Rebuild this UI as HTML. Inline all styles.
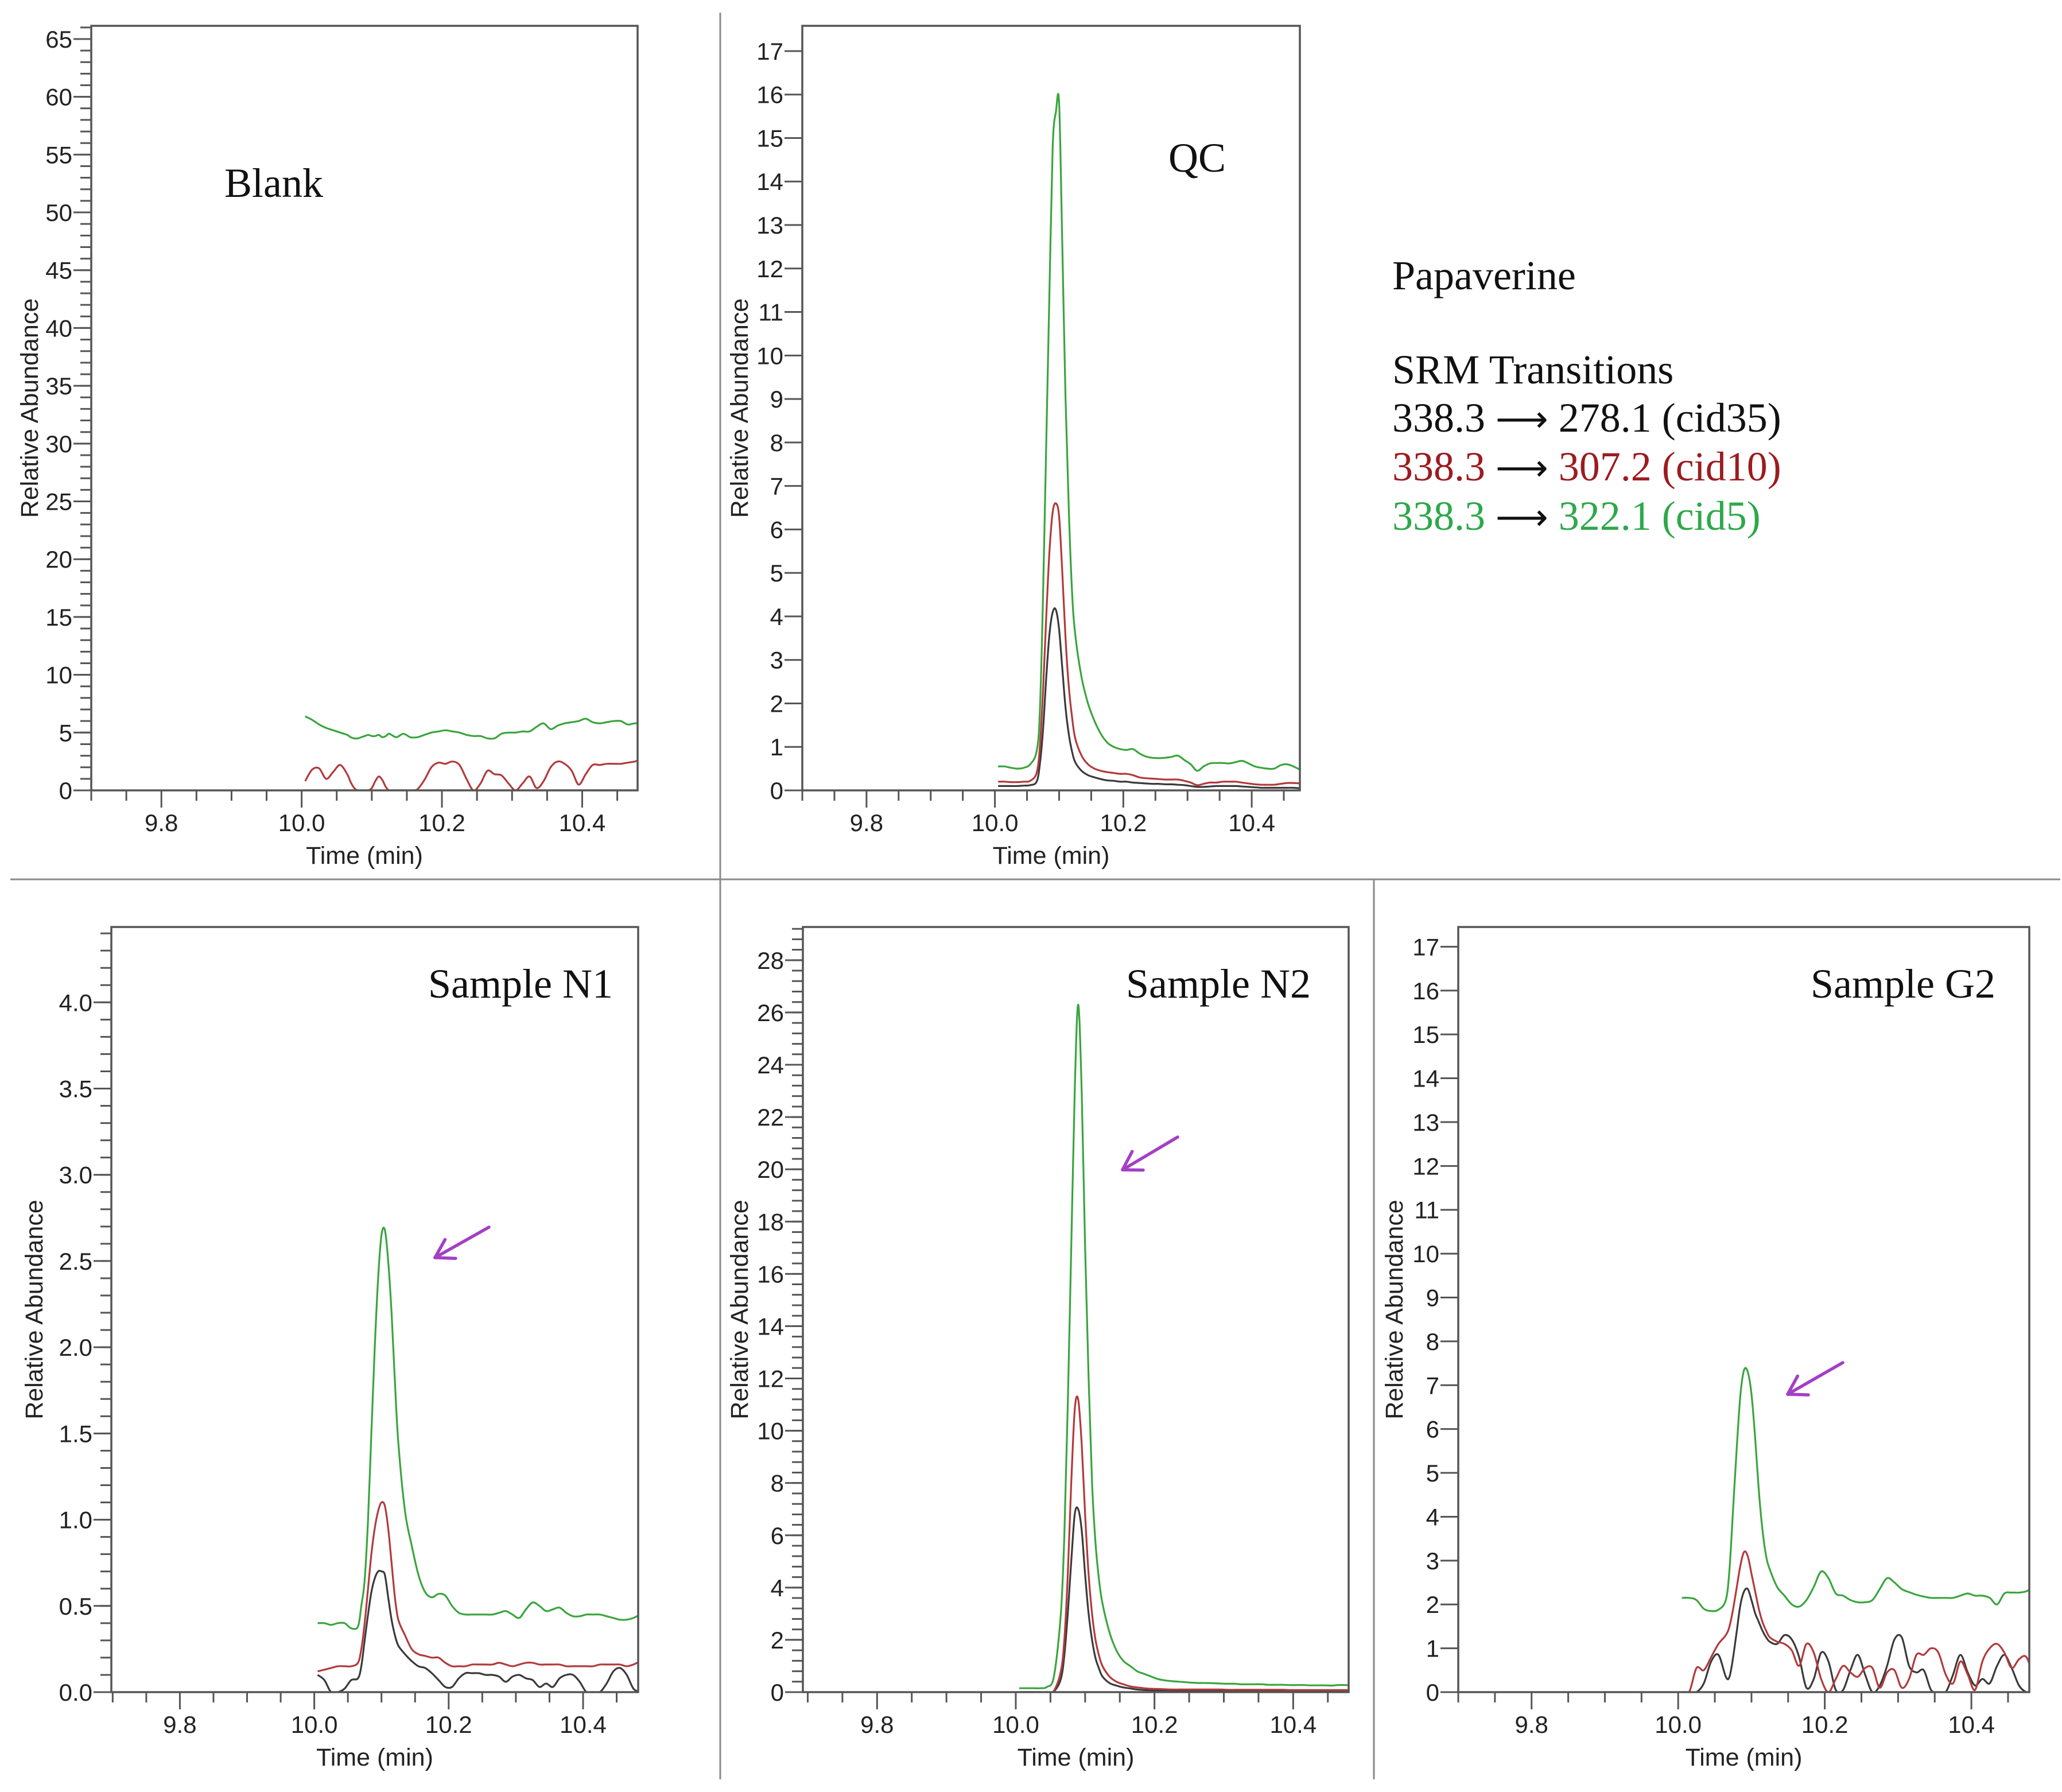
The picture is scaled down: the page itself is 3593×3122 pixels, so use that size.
<!DOCTYPE html>
<html><head><meta charset="utf-8"><style>
html,body{margin:0;padding:0;background:#fff}
svg{display:block}
text{font-family:"Liberation Sans",Arial,sans-serif}
.serif{font-family:"Liberation Serif","Times New Roman",serif}
.arr{font-family:"DejaVu Sans",sans-serif;font-size:64px}
</style></head><body>
<svg id="fig" width="3593" height="3122" viewBox="0 0 3593 3122" xmlns="http://www.w3.org/2000/svg">
<line x1="18" y1="1532" x2="3590" y2="1532" stroke="#8a8a8a" stroke-width="3"/>
<line x1="1255" y1="22" x2="1255" y2="3100" stroke="#8a8a8a" stroke-width="3"/>
<line x1="2394" y1="1532" x2="2394" y2="3100" stroke="#8a8a8a" stroke-width="3"/>
<g class="serif" font-size="72">
<text x="2426" y="504" fill="#111" class="serif">Papaverine</text>
<text x="2426" y="668" fill="#111" class="serif">SRM Transitions</text>
<text x="2426" y="752" fill="#111" class="serif">338.3 <tspan class="arr" fill="#111">⟶</tspan> 278.1 (cid35)</text>
<text x="2426" y="837" fill="#9b1c1f" class="serif">338.3 <tspan class="arr" fill="#111">⟶</tspan> 307.2 (cid10)</text>
<text x="2426" y="923" fill="#2ea84a" class="serif">338.3 <tspan class="arr" fill="#111">⟶</tspan> 322.1 (cid5)</text>
</g>
</svg>
<script>
const T = [10.00,10.01,10.02,10.03,10.04,10.05,10.06,10.065,10.07,10.075,10.08,10.085,10.09,10.095,10.10,10.105,10.11,10.115,10.12,10.13,10.14,10.15,10.16,10.17,10.18,10.19,10.20,10.21,10.22,10.23,10.24,10.25,10.26,10.27,10.28,10.29,10.30,10.31,10.32,10.33,10.34,10.35,10.36,10.37,10.38,10.39,10.40,10.41,10.42,10.43,10.44,10.45,10.46,10.47,10.48];
const xTickLabels = ["9.8","10.0","10.2","10.4"];

const blankGreen = [6.4,6.1,5.7,5.4,5.2,5.0,4.8,4.6,4.5,4.5,4.6,4.7,4.8,4.7,4.7,4.8,4.6,4.7,4.9,4.6,4.9,4.6,4.6,4.8,5.0,5.1,5.2,5.1,5.0,4.8,4.7,4.7,4.5,4.5,4.9,5.0,5.0,5.1,5.1,5.5,5.8,5.3,5.6,5.8,5.9,6.0,6.2,5.9,5.8,5.9,6.0,6.0,5.7,5.8,5.8];
const blankRed = [0.8,1.8,1.9,1.0,1.6,2.2,1.4,0.7,0.2,0,0,0,0,0.2,0.8,1.2,0.9,0.3,0,0,0,0,0.1,0.9,2.0,2.4,2.3,2.5,2.2,1.0,0,0.6,1.7,1.4,1.3,0.6,0,0.6,1.2,0.2,0.8,2.0,2.5,2.3,1.7,0.5,1.4,2.2,2.2,2.3,2.3,2.3,2.4,2.5,2.7];
const blankBlack = [0,0,0,0,0,0,0,0,0,0,0,0,0,0,0,0,0,0,0,0,0,0,0,0,0,0,0,0,0,0,0,0,0,0,0,0,0,0,0,0,0,0,0,0,0,0,0,0,0,0,0,0,0,0,0];

const qcGreen = [0.55,0.55,0.52,0.5,0.52,0.6,0.9,1.8,4.5,8,11.5,14.8,15.6,15.8,12.5,9,6.5,4.6,3.6,2.6,2.0,1.6,1.3,1.1,1.0,0.95,0.93,0.95,0.85,0.78,0.75,0.74,0.75,0.77,0.8,0.7,0.6,0.45,0.55,0.62,0.63,0.63,0.62,0.65,0.68,0.62,0.55,0.52,0.5,0.5,0.58,0.6,0.55,0.48,0.42];
const qcRed = [0.2,0.2,0.19,0.19,0.2,0.22,0.4,1.0,2.3,4.0,5.5,6.4,6.6,6.3,5.0,3.5,2.4,1.7,1.2,0.8,0.6,0.5,0.45,0.42,0.4,0.38,0.38,0.35,0.3,0.28,0.27,0.26,0.25,0.25,0.25,0.22,0.18,0.12,0.15,0.18,0.18,0.2,0.2,0.2,0.18,0.16,0.14,0.13,0.13,0.13,0.15,0.17,0.17,0.16,0.15];
const qcBlack = [0.1,0.1,0.1,0.1,0.11,0.12,0.2,0.6,1.4,2.6,3.6,4.1,4.15,3.7,2.8,1.9,1.3,0.9,0.65,0.45,0.35,0.3,0.26,0.23,0.22,0.2,0.2,0.18,0.17,0.16,0.15,0.15,0.14,0.14,0.13,0.12,0.1,0.08,0.08,0.09,0.1,0.1,0.1,0.1,0.09,0.08,0.07,0.06,0.06,0.06,0.06,0.06,0.06,0.05,0.05];

const n1Green = [0.4,0.4,0.39,0.4,0.4,0.37,0.38,0.5,0.65,1.0,1.5,2.0,2.4,2.65,2.68,2.5,2.2,1.8,1.45,1.05,0.85,0.68,0.58,0.55,0.57,0.56,0.5,0.46,0.45,0.45,0.45,0.45,0.45,0.46,0.47,0.45,0.43,0.48,0.52,0.5,0.47,0.48,0.49,0.46,0.44,0.44,0.45,0.45,0.45,0.44,0.43,0.42,0.42,0.43,0.45];
const n1Red = [0.12,0.13,0.14,0.15,0.15,0.15,0.17,0.25,0.4,0.6,0.8,0.95,1.05,1.1,1.08,0.95,0.75,0.55,0.42,0.33,0.25,0.22,0.21,0.2,0.2,0.17,0.15,0.15,0.15,0.16,0.16,0.16,0.16,0.17,0.16,0.15,0.16,0.17,0.17,0.16,0.16,0.16,0.16,0.15,0.15,0.15,0.15,0.15,0.16,0.16,0.16,0.16,0.15,0.16,0.18];
const n1Black = [0.1,0.07,0,0,0.02,0.07,0.08,0.15,0.3,0.45,0.58,0.66,0.7,0.7,0.68,0.55,0.42,0.33,0.27,0.22,0.18,0.15,0.14,0.11,0.07,0.03,0.03,0.08,0.11,0.11,0.11,0.1,0.1,0.09,0.06,0.09,0.1,0.08,0.07,0.03,0.05,0.03,0.08,0.1,0.1,0.06,0,0,0,0.05,0.12,0.14,0.1,0.02,0];

const n2Green = [0.15,0.15,0.15,0.15,0.2,0.6,3,6,11,17,23,26.3,23,17,12,8,5.7,4.3,3.4,2.3,1.6,1.2,1.0,0.8,0.7,0.6,0.5,0.45,0.42,0.4,0.38,0.36,0.35,0.35,0.34,0.33,0.32,0.32,0.3,0.3,0.3,0.3,0.28,0.28,0.28,0.27,0.27,0.27,0.26,0.26,0.26,0.25,0.27,0.27,0.25];
const n2Red = [0,0,0,0,0,0.05,0.8,2,4.5,8,10.8,11.2,9.5,6.8,4.5,3,2,1.4,1.0,0.6,0.4,0.3,0.22,0.18,0.15,0.13,0.12,0.11,0.1,0.1,0.1,0.1,0.1,0.1,0.1,0.1,0.09,0.09,0.09,0.09,0.09,0.09,0.09,0.09,0.09,0.08,0.08,0.08,0.08,0.08,0.08,0.08,0.08,0.08,0.08];
const n2Black = [0,0,0,0,0,0.03,0.5,1.4,3,5,6.8,7.0,6.2,4.5,3,2,1.3,0.9,0.6,0.35,0.25,0.18,0.14,0.1,0.08,0.07,0.06,0.06,0.06,0.06,0.05,0.05,0.05,0.05,0.05,0.05,0.05,0.05,0.05,0.05,0.05,0.05,0.05,0.05,0.05,0.05,0.05,0.05,0.05,0.05,0.05,0.05,0.05,0.05,0.05];

const g2Green = [2.15,2.15,2.1,1.9,1.85,1.88,2.1,2.8,4.2,5.6,6.8,7.35,7.3,6.8,5.8,4.6,3.7,3.1,2.8,2.4,2.2,2.0,1.95,2.1,2.4,2.75,2.6,2.25,2.2,2.1,2.05,2.05,2.1,2.35,2.6,2.5,2.35,2.28,2.22,2.18,2.15,2.15,2.15,2.15,2.2,2.25,2.2,2.2,2.15,2.0,2.25,2.27,2.27,2.3,2.4];
const g2Red = [0,0,0.55,0.5,0.8,1.1,1.3,1.5,1.9,2.4,2.9,3.2,3.1,2.7,2.3,1.9,1.6,1.4,1.25,1.15,1.1,0.95,0.6,1.1,0.9,0.3,0,0.3,0.6,0.45,0.35,0.55,0.55,0.1,0.45,0.5,0.1,0.3,0.85,0.85,1.0,0.9,0.4,0.2,0.7,0.4,0.05,0.7,1.0,1.1,0.9,0.55,0.75,0.8,0.35];
const g2Black = [0,0,0,0.2,0.7,0.85,0.35,0.35,0.8,1.4,2.0,2.3,2.35,2.1,1.8,1.6,1.4,1.25,1.15,1.1,1.3,1.2,0.8,0.1,0.3,0.9,0.7,0.05,0.05,0.5,0.85,0.4,0,0.15,0.6,1.2,1.25,0.6,0.45,0.5,0.05,0,0,0.4,0.85,0.45,0.15,0.3,0.2,0.6,0.85,0.55,0.15,0,0];

const NS = "http://www.w3.org/2000/svg";
const svg = document.getElementById("fig");
const COL = {green:"#3aa53e", red:"#b23a3c", black:"#3a3a3a"};

function mk(tag, attrs, parent){
  const e = document.createElementNS(NS, tag);
  for (const k in attrs) e.setAttribute(k, attrs[k]);
  (parent||svg).appendChild(e);
  return e;
}
function smoothPath(pts){
  let d = "M" + pts[0][0].toFixed(1) + "," + pts[0][1].toFixed(1);
  for (let i=0;i<pts.length-1;i++){
    const p0 = pts[Math.max(0,i-1)], p1 = pts[i], p2 = pts[i+1], p3 = pts[Math.min(pts.length-1,i+2)];
    const c1x = p1[0] + (p2[0]-p0[0])/6, c1y = p1[1] + (p2[1]-p0[1])/6;
    const c2x = p2[0] - (p3[0]-p1[0])/6, c2y = p2[1] - (p3[1]-p1[1])/6;
    d += " C" + c1x.toFixed(1)+","+c1y.toFixed(1)+" "+c2x.toFixed(1)+","+c2y.toFixed(1)+" "+p2[0].toFixed(1)+","+p2[1].toFixed(1);
  }
  return d;
}

const panels = [
 {id:"blank", title:"Blank", tx:391, ty:343, L:159, R:1111, Tp:45, B:1377, x0:9.70, x1:10.479, ymax:66.14, major:5, minor:1, dec:0, labX:52,
  series:[["black",blankBlack],["red",blankRed],["green",blankGreen]]},
 {id:"qc", title:"QC", tx:2036, ty:299, L:1398, R:2265, Tp:45, B:1377, x0:9.70, x1:10.475, ymax:17.58, major:1, minor:0, dec:0, labX:1289,
  series:[["black",qcBlack],["red",qcRed],["green",qcGreen]]},
 {id:"sample-n1", title:"Sample N1", tx:746, ty:1738, L:194, R:1112, Tp:1615, B:2948, x0:9.698, x1:10.482, ymax:4.437, major:0.5, minor:0.1, dec:1, labX:60,
  series:[["black",n1Black],["red",n1Red],["green",n1Green]], arrow:[852,2138,758,2191]},
 {id:"sample-n2", title:"Sample N2", tx:1962, ty:1738, L:1399, R:2350, Tp:1615, B:2948, x0:9.693, x1:10.48, ymax:29.27, major:2, minor:0.4, dec:0, labX:1289,
  series:[["black",n2Black],["red",n2Red],["green",n2Green]], arrow:[2052,1981,1956,2038]},
 {id:"sample-g2", title:"Sample G2", tx:3155, ty:1738, L:2541, R:3536, Tp:1615, B:2948, x0:9.70, x1:10.479, ymax:17.45, major:1, minor:0, dec:0, labX:2430,
  series:[["black",g2Black],["red",g2Red],["green",g2Green]], arrow:[3211,2374,3115,2429]}
];

panels.forEach(p=>{
  const g = mk("g",{});
  
  
  const xs = t => p.L + (t-p.x0)/(p.x1-p.x0)*(p.R-p.L);
  const ys = v => p.B - v/p.ymax*(p.B-p.Tp);

  const cp = mk("clipPath",{id:"clip-"+p.id}, g);
  mk("rect",{x:p.L,y:p.Tp,width:p.R-p.L,height:p.B-p.Tp}, cp);

  p.series.forEach(([c,vals])=>{
    const pts = T.map((t,i)=>[xs(t+0.005), ys(Math.max(0,vals[i]))]);
    const path = mk("path",{d:smoothPath(pts), fill:"none", stroke:COL[c], "stroke-width":3.2, "clip-path":"url(#clip-"+p.id+")", "stroke-linejoin":"round"}, g);
    
    
  });

  const fr = mk("rect",{x:p.L,y:p.Tp,width:p.R-p.L,height:p.B-p.Tp,fill:"none",stroke:"#555","stroke-width":3.5}, g);
  
  

  const yax = mk("g",{}, g);
  
  
  if (p.minor>0){
    const n = Math.floor(p.ymax/p.minor+1e-6);
    for (let k=0;k<=n;k++){
      const y = ys(k*p.minor);
      mk("line",{x1:p.L-19,x2:p.L,y1:y,y2:y,stroke:"#555","stroke-width":3}, yax);
    }
  }
  const nm = Math.floor(p.ymax/p.major+1e-6);
  for (let k=0;k<=nm;k++){
    const v = k*p.major;
    const y = ys(v);
    mk("line",{x1:p.L-31,x2:p.L,y1:y,y2:y,stroke:"#555","stroke-width":3}, yax);
    const t = mk("text",{x:p.L-33,y:y+15,"text-anchor":"end","font-size":42,fill:"#222"}, yax);
    t.textContent = v.toFixed(p.dec);
    
    
  }
  const cy = (p.Tp+p.B)/2;
  const yl = mk("text",{x:p.labX,y:cy,"text-anchor":"middle","dominant-baseline":"central","font-size":43,fill:"#222",transform:"rotate(-90 "+p.labX+" "+cy+")"}, g);
  yl.textContent = "Relative Abundance";
  
  

  const xax = mk("g",{}, g);
  
  
  for (let k=0;;k++){
    const t = 9.70 + k*0.05;
    if (t > p.x1+1e-6) break;
    const x = xs(t);
    if (x < p.L-1) continue;
    const lab = Math.abs((t*10) - Math.round(t*10))<1e-6 && Math.round(t*10)%2===0;
    mk("line",{x1:x,x2:x,y1:p.B,y2:p.B+(lab?30:18),stroke:"#555","stroke-width":3}, xax);
  }
  xTickLabels.forEach(s=>{
    const x = xs(parseFloat(s));
    const t = mk("text",{x:x,y:p.B+71,"text-anchor":"middle","font-size":42,fill:"#222"}, xax);
    t.textContent = s;
    
    
  });
  const xl = mk("text",{x:(p.L+p.R)/2,y:p.B+128,"text-anchor":"middle","font-size":43,fill:"#222"}, g);
  xl.textContent = "Time (min)";
  
  

  const tt = mk("text",{x:p.tx,y:p.ty,"font-size":72,fill:"#111","class":"serif"}, g);
  tt.textContent = p.title;
  
  

  if (p.arrow){
    const [x1,y1,x2,y2] = p.arrow;
    const ag = mk("g",{stroke:"#a43fc4","stroke-width":5.5,"stroke-linecap":"round",fill:"none"}, g);
    
    
    mk("line",{x1:x1,y1:y1,x2:x2,y2:y2}, ag);
    const ang = Math.atan2(y1-y2, x1-x2);
    [0.55,-0.55].forEach(da=>{
      mk("line",{x1:x2,y1:y2,x2:x2+36*Math.cos(ang+da),y2:y2+36*Math.sin(ang+da)}, ag);
    });
  }
});
</script>
</body></html>
